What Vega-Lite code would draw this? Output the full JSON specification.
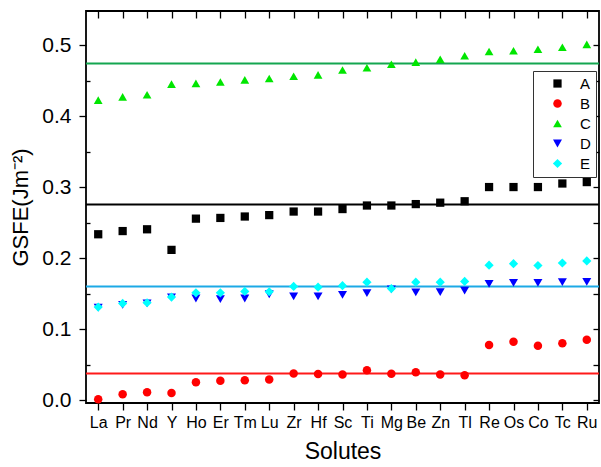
{
  "$schema": "https://vega.github.io/schema/vega-lite/v6.json",
  "width": 513,
  "height": 392,
  "autosize": {"type": "none"},
  "padding": {"left": 86, "top": 11, "right": 2, "bottom": 64},
  "background": "white",
  "config": {
    "font": "Liberation Sans",
    "view": {"stroke": "#000", "strokeWidth": 1.8},
    "axis": {"domainColor": "#000", "tickColor": "#000", "labelColor": "#000", "titleColor": "#000", "grid": false, "tickWidth": 1.3, "labelFont": "Liberation Sans", "titleFont": "Liberation Sans", "titleFontWeight": "normal"},
    "legend": {"labelFont": "Liberation Sans"}
  },
  "datasets": {
    "avg": [
      {"series": "A", "level": 0.2755},
      {"series": "B", "level": 0.0375},
      {"series": "C", "level": 0.474},
      {"series": "E", "level": 0.160}
    ],
    "pts": [
      {"solute": "La", "series": "A", "value": 0.2335},
      {"solute": "Pr", "series": "A", "value": 0.238},
      {"solute": "Nd", "series": "A", "value": 0.2405},
      {"solute": "Y", "series": "A", "value": 0.2115},
      {"solute": "Ho", "series": "A", "value": 0.2555},
      {"solute": "Er", "series": "A", "value": 0.2565},
      {"solute": "Tm", "series": "A", "value": 0.2585},
      {"solute": "Lu", "series": "A", "value": 0.2605},
      {"solute": "Zr", "series": "A", "value": 0.2655},
      {"solute": "Hf", "series": "A", "value": 0.2655},
      {"solute": "Sc", "series": "A", "value": 0.269},
      {"solute": "Ti", "series": "A", "value": 0.274},
      {"solute": "Mg", "series": "A", "value": 0.274},
      {"solute": "Be", "series": "A", "value": 0.276},
      {"solute": "Zn", "series": "A", "value": 0.278},
      {"solute": "Tl", "series": "A", "value": 0.280},
      {"solute": "Re", "series": "A", "value": 0.300},
      {"solute": "Os", "series": "A", "value": 0.300},
      {"solute": "Co", "series": "A", "value": 0.300},
      {"solute": "Tc", "series": "A", "value": 0.305},
      {"solute": "Ru", "series": "A", "value": 0.307},
      {"solute": "La", "series": "B", "value": 0.001},
      {"solute": "Pr", "series": "B", "value": 0.008},
      {"solute": "Nd", "series": "B", "value": 0.011},
      {"solute": "Y", "series": "B", "value": 0.010},
      {"solute": "Ho", "series": "B", "value": 0.025},
      {"solute": "Er", "series": "B", "value": 0.027},
      {"solute": "Tm", "series": "B", "value": 0.028},
      {"solute": "Lu", "series": "B", "value": 0.029},
      {"solute": "Zr", "series": "B", "value": 0.0375},
      {"solute": "Hf", "series": "B", "value": 0.0365},
      {"solute": "Sc", "series": "B", "value": 0.036},
      {"solute": "Ti", "series": "B", "value": 0.042},
      {"solute": "Mg", "series": "B", "value": 0.037},
      {"solute": "Be", "series": "B", "value": 0.039},
      {"solute": "Zn", "series": "B", "value": 0.036},
      {"solute": "Tl", "series": "B", "value": 0.035},
      {"solute": "Re", "series": "B", "value": 0.0775},
      {"solute": "Os", "series": "B", "value": 0.082},
      {"solute": "Co", "series": "B", "value": 0.0765},
      {"solute": "Tc", "series": "B", "value": 0.080},
      {"solute": "Ru", "series": "B", "value": 0.085},
      {"solute": "La", "series": "C", "value": 0.4225},
      {"solute": "Pr", "series": "C", "value": 0.427},
      {"solute": "Nd", "series": "C", "value": 0.430},
      {"solute": "Y", "series": "C", "value": 0.445},
      {"solute": "Ho", "series": "C", "value": 0.446},
      {"solute": "Er", "series": "C", "value": 0.448},
      {"solute": "Tm", "series": "C", "value": 0.451},
      {"solute": "Lu", "series": "C", "value": 0.453},
      {"solute": "Zr", "series": "C", "value": 0.456},
      {"solute": "Hf", "series": "C", "value": 0.458},
      {"solute": "Sc", "series": "C", "value": 0.465},
      {"solute": "Ti", "series": "C", "value": 0.468},
      {"solute": "Mg", "series": "C", "value": 0.473},
      {"solute": "Be", "series": "C", "value": 0.476},
      {"solute": "Zn", "series": "C", "value": 0.480},
      {"solute": "Tl", "series": "C", "value": 0.485},
      {"solute": "Re", "series": "C", "value": 0.491},
      {"solute": "Os", "series": "C", "value": 0.492},
      {"solute": "Co", "series": "C", "value": 0.494},
      {"solute": "Tc", "series": "C", "value": 0.497},
      {"solute": "Ru", "series": "C", "value": 0.501},
      {"solute": "La", "series": "D", "value": 0.130},
      {"solute": "Pr", "series": "D", "value": 0.134},
      {"solute": "Nd", "series": "D", "value": 0.136},
      {"solute": "Y", "series": "D", "value": 0.1445},
      {"solute": "Ho", "series": "D", "value": 0.143},
      {"solute": "Er", "series": "D", "value": 0.142},
      {"solute": "Tm", "series": "D", "value": 0.143},
      {"solute": "Lu", "series": "D", "value": 0.149},
      {"solute": "Zr", "series": "D", "value": 0.146},
      {"solute": "Hf", "series": "D", "value": 0.146},
      {"solute": "Sc", "series": "D", "value": 0.148},
      {"solute": "Ti", "series": "D", "value": 0.1505},
      {"solute": "Mg", "series": "D", "value": 0.156},
      {"solute": "Be", "series": "D", "value": 0.1515},
      {"solute": "Zn", "series": "D", "value": 0.152},
      {"solute": "Tl", "series": "D", "value": 0.154},
      {"solute": "Re", "series": "D", "value": 0.1635},
      {"solute": "Os", "series": "D", "value": 0.165},
      {"solute": "Co", "series": "D", "value": 0.165},
      {"solute": "Tc", "series": "D", "value": 0.166},
      {"solute": "Ru", "series": "D", "value": 0.1665},
      {"solute": "La", "series": "E", "value": 0.131},
      {"solute": "Pr", "series": "E", "value": 0.136},
      {"solute": "Nd", "series": "E", "value": 0.137},
      {"solute": "Y", "series": "E", "value": 0.145},
      {"solute": "Ho", "series": "E", "value": 0.151},
      {"solute": "Er", "series": "E", "value": 0.151},
      {"solute": "Tm", "series": "E", "value": 0.153},
      {"solute": "Lu", "series": "E", "value": 0.1525},
      {"solute": "Zr", "series": "E", "value": 0.160},
      {"solute": "Hf", "series": "E", "value": 0.159},
      {"solute": "Sc", "series": "E", "value": 0.161},
      {"solute": "Ti", "series": "E", "value": 0.166},
      {"solute": "Mg", "series": "E", "value": 0.157},
      {"solute": "Be", "series": "E", "value": 0.166},
      {"solute": "Zn", "series": "E", "value": 0.166},
      {"solute": "Tl", "series": "E", "value": 0.167},
      {"solute": "Re", "series": "E", "value": 0.190},
      {"solute": "Os", "series": "E", "value": 0.192},
      {"solute": "Co", "series": "E", "value": 0.1895},
      {"solute": "Tc", "series": "E", "value": 0.193},
      {"solute": "Ru", "series": "E", "value": 0.196}
    ]
  },
  "layer": [
    {
      "data": {"name": "avg"},
      "mark": {"type": "rule", "strokeWidth": 2},
      "encoding": {
        "y": {
          "field": "level", "type": "quantitative",
          "scale": {"domain": [-0.0042, 0.548], "nice": false, "zero": false},
          "axis": {"orient": "right", "values": [0, 0.05, 0.1, 0.15, 0.2, 0.25, 0.3, 0.35, 0.4, 0.45, 0.5], "labels": false, "tickSize": -6, "title": null, "domain": false}
        },
        "color": {
          "field": "series", "type": "nominal",
          "scale": {"domain": ["A", "B", "C", "E"], "range": ["#000000", "#ff1a1a", "#14a650", "#1ca9e6"]},
          "legend": null
        }
      }
    },
    {
      "data": {"name": "pts"},
      "mark": {"type": "point", "filled": true, "opacity": 1},
      "encoding": {
        "x": {
          "field": "solute", "type": "nominal", "sort": null,
          "scale": {"type": "point", "padding": 0.5},
          "axis": {"orient": "bottom", "title": "Solutes", "labelAngle": 0, "labelFontSize": 16, "tickSize": 7, "labelPadding": 4, "titleFontSize": 23, "titlePadding": 10, "domain": false}
        },
        "y": {
          "field": "value", "type": "quantitative",
          "axis": {"orient": "left", "title": "GSFE(Jm⁻²)", "values": [0, 0.1, 0.2, 0.3, 0.4, 0.5], "format": ".1f", "tickSize": 7, "labelFontSize": 21, "labelPadding": 8, "titleFontSize": 22, "titlePadding": 9, "domain": false}
        },
        "color": {
          "field": "series", "type": "nominal",
          "scale": {"domain": ["A", "B", "C", "D", "E"], "range": ["#000000", "#ff0000", "#00e600", "#0000ff", "#00ffff"]},
          "legend": {"orient": "none", "legendX": 447, "legendY": 60, "title": null, "strokeColor": "#333", "padding": 5, "symbolOffset": 12, "labelOffset": 15, "labelFontSize": 15, "rowPadding": 4, "fillColor": "white"}
        },
        "shape": {
          "field": "series", "type": "nominal",
          "scale": {"domain": ["A", "B", "C", "D", "E"], "range": ["square", "circle", "triangle-up", "triangle-down", "diamond"]},
          "legend": {"orient": "none", "legendX": 447, "legendY": 60, "title": null, "strokeColor": "#333", "padding": 5, "symbolOffset": 12, "labelOffset": 15, "labelFontSize": 15, "rowPadding": 4, "fillColor": "white"}
        },
        "size": {
          "field": "series", "type": "nominal",
          "scale": {"domain": ["A", "B", "C", "D", "E"], "range": [68, 85, 180, 180, 140]},
          "legend": {"orient": "none", "legendX": 447, "legendY": 60, "title": null, "strokeColor": "#333", "padding": 5, "symbolOffset": 12, "labelOffset": 15, "labelFontSize": 15, "rowPadding": 4, "fillColor": "white"}
        }
      }
    },
    {
      "data": {"name": "pts"},
      "mark": {"type": "point", "opacity": 0},
      "encoding": {
        "x": {
          "field": "solute", "type": "nominal", "sort": null,
          "axis": {"orient": "top", "labels": false, "tickSize": -7, "title": null, "domain": false}
        },
        "y": {
          "field": "value", "type": "quantitative",
          "axis": {"orient": "left", "values": [0.05, 0.15, 0.25, 0.35, 0.45], "labels": false, "tickSize": -4, "title": null, "domain": false}
        }
      }
    }
  ],
  "resolve": {"scale": {"color": "independent", "shape": "independent", "size": "independent"}, "axis": {"x": "independent", "y": "independent"}}
}
